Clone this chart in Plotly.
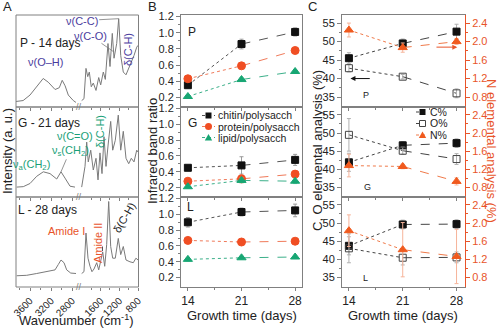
import plotly.graph_objects as go

W, H = 500, 328
FONT = "Liberation Sans, Arial, sans-serif"


def px(x):
    return x / W


def py(y):
    return 1 - y / H


# ---------------- Panel A: FTIR spectra (wavenumber, relative intensity) -------------
wnL_P = [3865, 3730, 3600, 3475, 3350, 3255, 3125, 3045, 2990, 2935, 2875, 2780, 2730]
inL_P = [0.06, 0.07, 0.13, 0.22, 0.31, 0.27, 0.19, 0.21, 0.29, 0.23, 0.13, 0.07, 0.05]
wnR_P = [2004, 1955, 1912, 1875, 1841, 1799, 1756, 1698, 1640, 1598, 1542, 1499, 1442,
         1399, 1350, 1313, 1256, 1213, 1170, 1115, 1057, 999, 944, 886, 828, 800]
inR_P = [0.07, 0.09, 0.42, 0.33, 0.38, 0.22, 0.26, 0.18, 0.32, 0.24, 0.38, 0.30, 0.69,
         0.44, 0.80, 0.53, 0.69, 0.96, 0.56, 0.38, 0.35, 0.42, 0.47, 0.56, 0.65, 0.67]

wnL_G = [3852, 3727, 3600, 3473, 3348, 3221, 3094, 3013, 2937, 2842, 2748]
inL_G = [0.11, 0.115, 0.15, 0.23, 0.28, 0.26, 0.20, 0.28, 0.21, 0.12, 0.11]
wnR_G = [2004, 1933, 1897, 1863, 1811, 1756, 1698, 1655, 1613, 1570, 1527, 1484, 1435,
         1384, 1341, 1286, 1222, 1170, 1115, 1057, 999, 944, 886, 828, 800]
inR_G = [0.11, 0.34, 0.61, 0.39, 0.52, 0.30, 0.43, 0.19, 0.49, 0.26, 0.67, 0.34, 0.60,
         0.84, 0.52, 0.63, 0.91, 0.52, 0.73, 0.43, 0.37, 0.43, 0.39, 0.52, 0.50]

wnL_L = [3852, 3662, 3473, 3284, 3126, 3064, 3013, 2956, 2905, 2829, 2729]
inL_L = [0.125, 0.13, 0.15, 0.17, 0.19, 0.25, 0.30, 0.27, 0.19, 0.155, 0.15]
wnR_L = [2004, 1955, 1912, 1869, 1826, 1784, 1741, 1683, 1640, 1598, 1555, 1512, 1470,
         1427, 1384, 1341, 1286, 1222, 1170, 1115, 1057, 972, 901, 845, 800]
inR_L = [0.15, 0.17, 0.60, 0.32, 0.23, 0.17, 0.20, 0.27, 0.19, 0.30, 0.39, 0.23, 0.47,
         0.95, 0.45, 0.32, 0.32, 0.54, 0.36, 0.45, 0.30, 0.28, 0.27, 0.32, 0.30]

wn_ticks_left = [3600, 3200, 2800]
wn_ticks_right = [1600, 1200, 800]

# ---------------- Panel B: infrared band ratios ----------------
days = [14, 21, 28]
day_labels = ["14", "21", "28"]

chitin_P = [0.35, 0.86, 1.01]
protein_P = [0.43, 0.59, 0.78]
lipid_P = [0.21, 0.42, 0.52]
chitin_P_err = [0.03, 0.06, 0.05]
protein_P_err = [0.03, 0.04, 0.03]
lipid_P_err = [0.02, 0.02, 0.02]

chitin_G = [0.45, 0.48, 0.55]
protein_G = [0.28, 0.31, 0.37]
lipid_G = [0.21, 0.29, 0.28]
chitin_G_err = [0.03, 0.11, 0.07]
protein_G_err = [0.03, 0.05, 0.03]
lipid_G_err = [0.02, 0.03, 0.03]

chitin_L = [0.90, 1.03, 1.05]
protein_L = [0.67, 0.65, 0.66]
lipid_L = [0.43, 0.45, 0.46]
chitin_L_err = [0.06, 0.05, 0.08]
protein_L_err = [0.03, 0.03, 0.03]
lipid_L_err = [0.02, 0.02, 0.02]

ratio_ticks = [0.2, 0.4, 0.6, 0.8, 1.0, 1.2]
ratio_labels = ["0.2", "0.4", "0.6", "0.8", "1.0", "1.2"]

# ---------------- Panel C: elemental analysis ----------------
C_P = [45.5, 49.5, 52.7]
O_P = [42.8, 40.5, 36.0]
N_P = [2.25, 1.87, 2.00]
C_P_err = [1.5, 1.2, 2.0]
O_P_err = [1.0, 0.6, 1.2]
N_P_err = [0.15, 0.10, 0.06]

C_G = [41.9, 46.6, 47.2]
O_G = [49.5, 45.1, 42.8]
N_G = [1.28, 1.26, 0.93]
C_G_err = [2.5, 1.0, 1.2]
O_G_err = [4.5, 1.0, 1.5]
N_G_err = [0.25, 0.05, 0.08]

C_L = [43.7, 49.6, 49.7]
O_L = [43.0, 40.4, 40.5]
N_L = [1.83, 1.41, 1.26]
C_L_err = [2.5, 1.2, 1.2]
O_L_err = [4.0, 2.0, 1.5]
N_L_err = [0.35, 0.6, 0.6]

co_ticks = [35, 40, 45, 50, 55]
n_ticks = [0.8, 1.2, 1.6, 2.0, 2.4]
n_labels = ["0.8", "1.2", "1.6", "2.0", "2.4"]

# ---------------- styling ----------------
GRAY = "#7a7a7a"
FRAME = "#808080"
PURPLE = "#4b3c9e"
GREEN = "#1a9f78"
ORANGE = "#e8542a"
RED_O = "#f04e23"
GREEN_M = "#17a673"

rows = [(15, 107), (107, 197), (197, 287)]


def xname(n):
    return "xaxis" if n == 1 else f"xaxis{n}"


def yname(n):
    return "yaxis" if n == 1 else f"yaxis{n}"


def xr(n):
    return "x" if n == 1 else f"x{n}"


def yr(n):
    return "y" if n == 1 else f"y{n}"


fig = go.Figure()
layout = dict(
    width=W, height=H, margin=dict(l=0, r=0, t=0, b=0),
    paper_bgcolor="white", plot_bgcolor="rgba(0,0,0,0)",
    showlegend=False, template="none",
    font=dict(family=FONT, size=11, color="#222"),
)
shapes = []
annotations = []


def ann(text, x, y, size=11, color="#222", angle=0, xanchor="center"):
    annotations.append(dict(text=text, x=px(x), y=py(y), xref="paper", yref="paper",
                            showarrow=False, font=dict(size=size, color=color, family=FONT),
                            textangle=angle, xanchor=xanchor, yanchor="middle"))


# ---------------- Panel A ----------------
specA = [(wnL_P, inL_P, wnR_P, inR_P), (wnL_G, inL_G, wnR_G, inR_G), (wnL_L, inL_L, wnR_L, inR_L)]
for i, (wl, il, wr, ir) in enumerate(specA):
    top, bot = rows[i]
    nL, nR, ny = 2 * i + 1, 2 * i + 2, i + 1
    common = dict(ticks="outside", ticklen=3, tickcolor=FRAME, showgrid=False, zeroline=False,
                  showline=False, tickangle=-45, tickfont=dict(size=10, color="#222"),
                  showticklabels=(i == 2), anchor=yr(ny))
    layout[xname(nL)] = dict(domain=[px(16), px(77)], range=[3865, 2710], tickvals=wn_ticks_left,
                             minor=dict(tickvals=[3800, 3400, 3000], ticks="outside", ticklen=2,
                                        tickcolor=FRAME), **common)
    layout[xname(nR)] = dict(domain=[px(80), px(138.5)], range=[2040, 790], tickvals=wn_ticks_right,
                             minor=dict(tickvals=[1800, 1400, 1000], ticks="outside", ticklen=2,
                                        tickcolor=FRAME), **common)
    layout[yname(ny)] = dict(domain=[py(bot), py(top)], range=[0, 1], visible=False, anchor=xr(nL))
    fig.add_trace(go.Scatter(x=wl, y=il, xaxis=xr(nL), yaxis=yr(ny), mode="lines",
                             line=dict(color=GRAY, width=1), hoverinfo="skip"))
    fig.add_trace(go.Scatter(x=wr, y=ir, xaxis=xr(nR), yaxis=yr(ny), mode="lines",
                             line=dict(color=GRAY, width=1), hoverinfo="skip"))
    shapes.append(dict(type="rect", xref="paper", yref="paper", x0=px(16), x1=px(138.5),
                       y0=py(bot), y1=py(top), line=dict(color=FRAME, width=1)))
    ann("//", 78.5, bot, size=9, color=GRAY)

ann("P - 14 days", 50, 43, size=12)
ann("G - 21 days", 49, 123, size=12)
ann("L - 28 days", 47.5, 210, size=12)

ann("\u03bd(O\u2013H)", 45, 62, size=11, color=PURPLE)
ann("\u03b4(C-H)", 128, 50, size=11, color=PURPLE, angle=-90)
ann("\u03bd(C=O)", 75, 136, size=11, color=GREEN)
ann("\u03b4(C-H)", 100, 132, size=11, color=GREEN, angle=-90)
ann("\u03bd<sub>a</sub>(CH<sub>2</sub>)", 31, 165, size=11, color=GREEN)
ann("Amide I", 66, 231, size=11, color=ORANGE)
ann("Amide II", 98, 243, size=11, color=ORANGE, angle=-90)
ann("\u03b4(C-H)", 124, 218, size=11, color="#222", angle=-60)


def arrow_ann(text, x, y, xref, yref, axp, ayp, color, tcolor):
    annotations.append(dict(text=text, x=x, y=y, xref=xref, yref=yref, showarrow=True,
                            arrowhead=0, arrowwidth=0.8, arrowcolor=color, ax=axp, ay=ayp,
                            font=dict(size=11, color=tcolor, family=FONT)))


arrow_ann("\u03bd(C-C)", wnR_P[17], inR_P[17], "x2", "y", -37, 2, GRAY, PURPLE)
arrow_ann("\u03bd(C-O)", 1320, 0.6, "x2", "y", -23, -16, GRAY, PURPLE)
arrow_ann("\u03bd<sub>s</sub>(CH<sub>2</sub>)", wnL_G[7], inL_G[7], "x3", "y2", 9, -21, GRAY, GREEN)
arrow_ann(" ", 1560, 0.40, "x6", "y3", 0, -12, "#222", "#222")

ann("A", 7, 6, size=13)
ann("Intensity (a. u.)", 7, 151, size=13, angle=-90)
ann("Wavenumber (cm<sup>-1</sup>)", 76, 320, size=13)

# ---------------- Panel B ----------------
b_sets = [
    [(chitin_P, chitin_P_err), (protein_P, protein_P_err), (lipid_P, lipid_P_err)],
    [(chitin_G, chitin_G_err), (protein_G, protein_G_err), (lipid_G, lipid_G_err)],
    [(chitin_L, chitin_L_err), (protein_L, protein_L_err), (lipid_L, lipid_L_err)],
]
b_styles = [
    dict(symbol="square", color="#111111", line="#555555", err="#9a9a9a", size=7),
    dict(symbol="circle", color=RED_O, line="#f07a5a", err="#f5a98f", size=8),
    dict(symbol="triangle-up", color=GREEN_M, line="#3cb08a", err="#8fd3b8", size=8),
]


def series(xn, yn, vals, errs, st):
    fig.add_trace(go.Scatter(x=days[:2], y=vals[:2], xaxis=xn, yaxis=yn, mode="lines",
                             line=dict(color=st["line"], width=1, dash="dot"), hoverinfo="skip"))
    fig.add_trace(go.Scatter(x=days[1:], y=vals[1:], xaxis=xn, yaxis=yn, mode="lines",
                             line=dict(color=st["line"], width=1, dash="dash"), hoverinfo="skip"))
    fig.add_trace(go.Scatter(x=days, y=vals, xaxis=xn, yaxis=yn, mode="markers",
                             marker=dict(symbol=st["symbol"], size=st["size"], color=st["color"],
                                         line=dict(color=st["color"], width=1)),
                             error_y=dict(type="data", array=errs, color=st["err"], thickness=1, width=2)))


for i in range(3):
    top, bot = rows[i]
    nx, ny = 7 + i, 4 + i
    layout[xname(nx)] = dict(domain=[px(181), px(302)], range=[13.1, 28.9], anchor=yr(ny),
                             tickvals=days, ticktext=day_labels, ticks="outside", ticklen=3,
                             tickcolor=FRAME,
                             minor=dict(tickvals=[17.5, 24.5], ticks="outside", ticklen=2, tickcolor=FRAME),
                             showline=True, mirror=True, linecolor=FRAME, linewidth=1,
                             showgrid=False, zeroline=False, showticklabels=(i == 2),
                             tickfont=dict(size=12, color="#222"))
    layout[yname(ny)] = dict(domain=[py(bot), py(top)], range=[0.08, 1.22], anchor=xr(nx),
                             tickvals=ratio_ticks, ticktext=ratio_labels, ticks="outside", ticklen=4,
                             tickcolor=FRAME,
                             minor=dict(tickvals=[0.3, 0.5, 0.7, 0.9, 1.1], ticks="outside", ticklen=2,
                                        tickcolor=FRAME),
                             showline=True, mirror=True, linecolor=FRAME, linewidth=1,
                             showgrid=False, zeroline=False, tickfont=dict(size=11, color="#222"))
    for (vals, errs), st in zip(b_sets[i], b_styles):
        series(xr(nx), yr(ny), vals, errs, st)

ann("P", 192, 32, size=12)
ann("G", 192, 123, size=12)
ann("L", 190, 207, size=12)
ann("B", 152, 6, size=13)
ann("Infrared band ratio", 152, 151, size=13, angle=-90)
ann("Growth time (days)", 241.5, 315, size=13)

# manual legend for B
b_legend = ["chitin/polysacch", "protein/polysacch", "lipid/polysacch"]
for k, (lab, st) in enumerate(zip(b_legend, b_styles)):
    cy = 115.5 + 11 * k
    shapes.append(dict(type="line", xref="paper", yref="paper", x0=px(202), x1=px(215),
                       y0=py(cy), y1=py(cy), line=dict(color=st["line"], width=1, dash="dot")))
    if k == 0:
        shapes.append(dict(type="rect", xref="paper", yref="paper", x0=px(205.5), x1=px(211.5),
                           y0=py(cy + 3), y1=py(cy - 3), fillcolor=st["color"], line=dict(width=0)))
    elif k == 1:
        shapes.append(dict(type="circle", xref="paper", yref="paper", x0=px(205), x1=px(212),
                           y0=py(cy + 3.5), y1=py(cy - 3.5), fillcolor=st["color"], line=dict(width=0)))
    else:
        path = (f"M{px(204.8)},{py(cy + 3)} L{px(212.2)},{py(cy + 3)} L{px(208.5)},{py(cy - 3.5)} Z")
        shapes.append(dict(type="path", xref="paper", yref="paper", path=path,
                           fillcolor=st["color"], line=dict(width=0)))
    ann(lab, 215.5, cy, size=10.5, xanchor="left")

# ---------------- Panel C ----------------
c_sets = [
    (C_P, C_P_err, O_P, O_P_err, N_P, N_P_err),
    (C_G, C_G_err, O_G, O_G_err, N_G, N_G_err),
    (C_L, C_L_err, O_L, O_L_err, N_L, N_L_err),
]
st_C = dict(symbol="square", color="#111111", line="#444444", err="#b0b0b0", size=7)
st_O = dict(symbol="square-open", color="#444444", line="#444444", err="#b0b0b0", size=7)
st_N = dict(symbol="triangle-up", color="#f05a1e", line="#f07a4a", err="#f6b49a", size=8)

for i in range(3):
    top, bot = rows[i]
    nx, nyl, nyr = 10 + i, 7 + 2 * i, 8 + 2 * i
    layout[xname(nx)] = dict(domain=[px(342), px(465)], range=[13.1, 29.1], anchor=yr(nyl),
                             tickvals=days, ticktext=day_labels, ticks="outside", ticklen=3,
                             tickcolor=FRAME,
                             minor=dict(tickvals=[17.5, 24.5], ticks="outside", ticklen=2, tickcolor=FRAME),
                             showline=True, mirror=True, linecolor=FRAME, linewidth=1,
                             showgrid=False, zeroline=False, showticklabels=(i == 2),
                             tickfont=dict(size=12, color="#222"))
    layout[yname(nyl)] = dict(domain=[py(bot), py(top)], range=[32.3, 57.2], anchor=xr(nx),
                              tickvals=co_ticks, ticks="outside", ticklen=4, tickcolor=FRAME,
                              minor=dict(tickvals=[37.5, 42.5, 47.5, 52.5], ticks="outside", ticklen=2,
                                         tickcolor=FRAME),
                              showline=True, mirror=False, linecolor=FRAME, linewidth=1,
                              showgrid=False, zeroline=False, tickfont=dict(size=11, color="#222"))
    layout[yname(nyr)] = dict(overlaying=yr(nyl), side="right", anchor=xr(nx), range=[0.585, 2.575],
                              tickvals=n_ticks, ticktext=n_labels, ticks="outside", ticklen=4,
                              tickcolor=ORANGE,
                              minor=dict(tickvals=[1.0, 1.4, 1.8, 2.2], ticks="outside", ticklen=2,
                                         tickcolor=ORANGE),
                              showline=True, linecolor=ORANGE, linewidth=1, showgrid=False,
                              zeroline=False, tickfont=dict(size=11, color=ORANGE))
    Cv, Ce, Ov, Oe, Nv, Ne = c_sets[i]
    series(xr(nx), yr(nyl), Cv, Ce, st_C)
    series(xr(nx), yr(nyl), Ov, Oe, st_O)
    series(xr(nx), yr(nyr), Nv, Ne, st_N)

# direction arrows in C-P
annotations.append(dict(text=" ", x=14.2, y=40, xref="x10", yref="y7", ax=17.1, ay=40,
                        axref="x10", ayref="y7", showarrow=True, arrowhead=2, arrowsize=1,
                        arrowwidth=1, arrowcolor="#111"))
annotations.append(dict(text=" ", x=28.1, y=1.88, xref="x10", yref="y8", ax=25.0, ay=1.88,
                        axref="x10", ayref="y8", showarrow=True, arrowhead=2, arrowsize=1,
                        arrowwidth=1, arrowcolor=ORANGE))

ann("P", 366, 95, size=9)
ann("G", 367, 187, size=9)
ann("L", 365, 278, size=9)
ann("C", 312, 6, size=13)
ann("C, O elemental analysis (%)", 317, 151, size=13, angle=-90)
ann("N elemental analysis (%)", 492, 151, size=13, color=ORANGE, angle=90)
ann("Growth time (days)", 403, 315, size=13)

# manual legend for C
c_legend = ["C%", "O%", "N%"]
for k, (lab, st) in enumerate(zip(c_legend, [st_C, st_O, st_N])):
    cy = 112 + 11.5 * k
    shapes.append(dict(type="line", xref="paper", yref="paper", x0=px(416), x1=px(428),
                       y0=py(cy), y1=py(cy), line=dict(color=st["line"], width=1, dash="dot")))
    if k == 0:
        shapes.append(dict(type="rect", xref="paper", yref="paper", x0=px(419.5), x1=px(425.5),
                           y0=py(cy + 3), y1=py(cy - 3), fillcolor="#111", line=dict(width=0)))
    elif k == 1:
        shapes.append(dict(type="rect", xref="paper", yref="paper", x0=px(419.5), x1=px(425.5),
                           y0=py(cy + 3), y1=py(cy - 3), fillcolor="white",
                           line=dict(color="#444", width=1)))
    else:
        path = (f"M{px(418.8)},{py(cy + 3)} L{px(426.2)},{py(cy + 3)} L{px(422.5)},{py(cy - 3.5)} Z")
        shapes.append(dict(type="path", xref="paper", yref="paper", path=path,
                           fillcolor=st["color"], line=dict(width=0)))
    ann(lab, 428, cy, size=10.5, xanchor="left")

layout["shapes"] = shapes
layout["annotations"] = annotations
fig.update_layout(**layout)
fig.write_html("out.html")
